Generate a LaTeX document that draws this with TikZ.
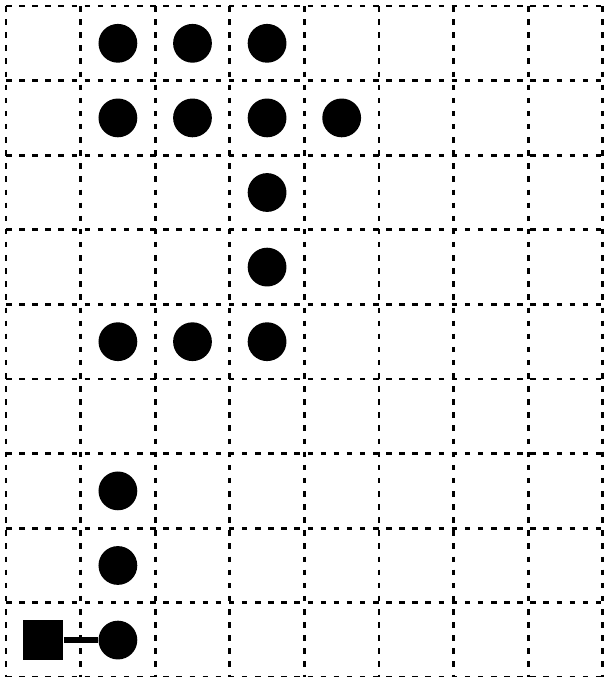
\documentclass[tikz,border=0pt]{standalone}
\begin{document}
\begin{tikzpicture}[x=1cm,y=-1cm,
  gridline/.style={line width=1.1pt, dash pattern=on 2.1pt off 2.9pt},
  dot/.style={circle, fill=black, inner sep=0pt, minimum size=0.52cm},
  sq/.style={rectangle, fill=black, inner sep=0pt, minimum size=0.536cm},
  link/.style={line width=2pt}]
\useasboundingbox (-0.0804,-0.0804) rectangle (8.029,8.995);
\foreach \i in {0,...,8} \draw[gridline] (\i,0) -- (\i,9.2);
\foreach \j in {0,...,9} \draw[gridline] (0,\j) -- (8,\j);
\foreach \c/\r in {1/0,2/0,3/0,1/1,2/1,3/1,4/1,3/2,3/3,1/4,2/4,3/4,1/6,1/7}
  \node[dot] (d\c\r) at (\c+0.5,\r+0.5) {};
\node[dot] (d18) at (1.5,8.5) {};
\node[sq] (s08) at (0.5,8.5) {};
\draw[link] (s08) -- (d18);
\end{tikzpicture}
\end{document}
